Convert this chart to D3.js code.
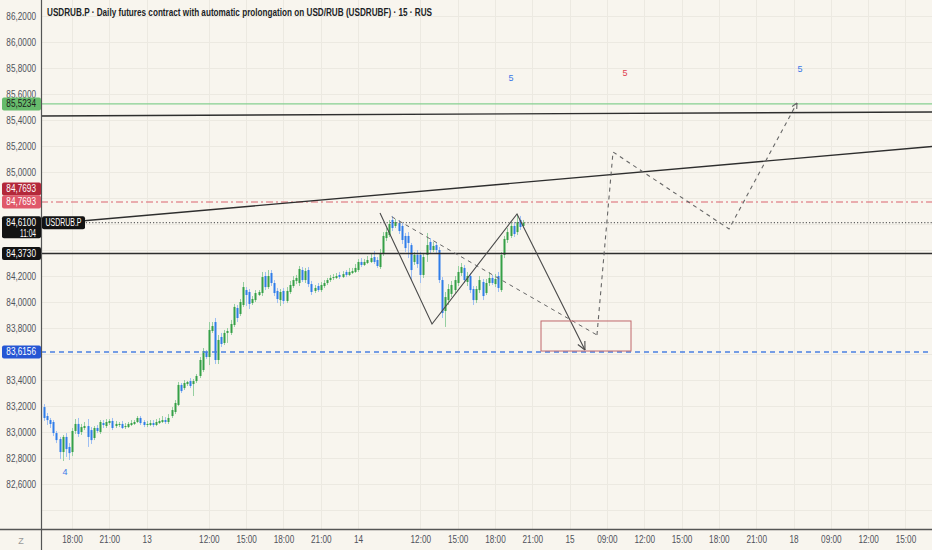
<!DOCTYPE html>
<html><head><meta charset="utf-8">
<script src="https://cdn.jsdelivr.net/npm/d3@7"></script>
<style>
html,body{margin:0;padding:0;background:#f8f5ee;}
svg{display:block;}
text{font-family:"Liberation Sans Narrow","Liberation Sans",Arial,sans-serif;}
</style></head><body>
<svg id="c" width="932" height="550"></svg>
<script>
// ---- candle data (15-min bars, USDRUB futures) ----
const opens=[83.192,83.123,83.092,83.077,82.992,82.946,82.846,82.962,82.885,82.846,83.008,83.062,83.000,83.031,83.046,83.015,82.954,83.031,83.000,83.069,83.046,83.069,83.085,83.046,83.054,83.062,83.038,83.038,83.054,83.062,83.077,83.108,83.077,83.054,83.054,83.069,83.054,83.069,83.077,83.092,83.077,83.123,83.154,83.208,83.362,83.338,83.369,83.392,83.369,83.392,83.431,83.477,83.615,83.577,83.777,83.846,83.554,83.731,83.685,83.762,83.762,83.823,83.954,83.908,83.977,84.092,84.077,83.992,84.015,84.054,84.069,84.200,84.115,84.223,84.146,84.085,84.015,84.085,84.008,84.077,84.123,84.162,84.146,84.246,84.169,84.246,84.138,84.085,84.123,84.092,84.123,84.146,84.169,84.185,84.185,84.208,84.192,84.231,84.208,84.223,84.231,84.246,84.308,84.285,84.300,84.308,84.346,84.323,84.269,84.369,84.492,84.515,84.631,84.585,84.608,84.585,84.508,84.508,84.438,84.308,84.362,84.362,84.208,84.362,84.462,84.400,84.438,84.400,84.169,83.931,84.015,84.062,84.092,84.146,84.223,84.262,84.154,84.200,84.100,84.015,84.092,84.154,84.069,84.146,84.185,84.138,84.200,84.092,84.362,84.477,84.508,84.585,84.538,84.631,84.585];
const highs=[83.215,83.146,83.108,83.092,83.008,82.962,82.977,82.992,82.915,83.031,83.100,83.108,83.062,83.077,83.100,83.038,83.046,83.054,83.092,83.092,83.100,83.100,83.108,83.085,83.077,83.085,83.069,83.077,83.092,83.092,83.123,83.123,83.092,83.085,83.092,83.092,83.100,83.108,83.123,83.115,83.138,83.192,83.246,83.385,83.377,83.400,83.392,83.415,83.408,83.446,83.577,83.646,83.631,83.846,83.846,83.877,83.746,83.762,83.785,83.800,83.862,83.985,83.977,84.023,84.154,84.115,84.100,84.046,84.092,84.092,84.231,84.231,84.246,84.246,84.169,84.108,84.100,84.108,84.115,84.162,84.200,84.208,84.277,84.269,84.262,84.269,84.162,84.131,84.146,84.154,84.169,84.185,84.208,84.215,84.223,84.231,84.238,84.246,84.262,84.262,84.292,84.331,84.338,84.331,84.354,84.369,84.392,84.346,84.408,84.538,84.569,84.631,84.662,84.638,84.631,84.608,84.531,84.538,84.454,84.385,84.400,84.385,84.377,84.531,84.492,84.462,84.462,84.423,84.192,84.077,84.138,84.162,84.200,84.277,84.300,84.285,84.231,84.223,84.123,84.123,84.200,84.177,84.177,84.231,84.208,84.215,84.231,84.385,84.508,84.569,84.615,84.615,84.677,84.662,84.631];
const lows=[83.085,83.054,83.031,82.969,82.915,82.792,82.777,82.808,82.785,82.815,82.985,82.962,82.977,83.015,82.885,82.908,82.938,82.992,82.985,83.031,83.031,83.054,83.015,83.031,83.038,83.023,83.023,83.031,83.046,83.054,83.069,83.054,83.038,83.038,83.046,83.038,83.046,83.062,83.069,83.062,83.062,83.108,83.138,83.200,83.300,83.323,83.354,83.338,83.277,83.377,83.415,83.462,83.562,83.515,83.762,83.523,83.523,83.654,83.669,83.685,83.746,83.808,83.846,83.892,83.962,83.969,83.946,83.977,84.000,84.046,84.046,84.092,84.100,84.123,84.046,83.992,83.969,83.985,83.992,84.062,84.108,84.138,84.123,84.154,84.146,84.115,84.054,84.069,84.077,84.077,84.108,84.131,84.154,84.169,84.177,84.177,84.185,84.192,84.200,84.215,84.223,84.231,84.269,84.277,84.292,84.300,84.292,84.262,84.254,84.354,84.469,84.500,84.546,84.569,84.523,84.446,84.385,84.338,84.169,84.285,84.262,84.146,84.185,84.308,84.369,84.385,84.377,84.146,83.877,83.808,83.977,84.038,84.069,84.123,84.200,84.146,84.123,84.069,83.977,83.992,84.069,84.015,84.054,84.123,84.131,84.115,84.077,84.077,84.338,84.454,84.492,84.500,84.515,84.554,84.569];
const closes=[83.108,83.092,83.062,82.992,82.938,82.846,82.962,82.869,82.838,83.008,83.062,82.985,83.038,83.046,82.962,82.938,83.031,83.008,83.077,83.054,83.077,83.085,83.031,83.062,83.062,83.031,83.046,83.062,83.069,83.077,83.108,83.069,83.054,83.062,83.069,83.054,83.077,83.085,83.092,83.077,83.108,83.169,83.223,83.362,83.315,83.377,83.385,83.354,83.392,83.431,83.554,83.623,83.577,83.785,83.815,83.554,83.708,83.677,83.762,83.777,83.831,83.962,83.877,84.000,84.115,84.054,83.985,84.023,84.069,84.077,84.192,84.115,84.200,84.146,84.069,84.023,84.077,84.008,84.085,84.131,84.169,84.185,84.254,84.169,84.238,84.138,84.077,84.108,84.092,84.131,84.146,84.169,84.185,84.192,84.200,84.192,84.215,84.208,84.231,84.238,84.262,84.308,84.285,84.308,84.323,84.338,84.308,84.277,84.369,84.508,84.538,84.600,84.569,84.615,84.546,84.477,84.415,84.454,84.246,84.362,84.292,84.208,84.346,84.438,84.400,84.431,84.400,84.169,83.915,84.038,84.100,84.131,84.169,84.231,84.269,84.169,84.200,84.092,84.015,84.100,84.169,84.046,84.146,84.185,84.146,84.177,84.108,84.362,84.485,84.538,84.585,84.523,84.615,84.577,84.610];

// ---- axes ----
const yTickValues=[82.4,82.6,82.8,83.0,83.2,83.4,83.6,83.8,84.0,84.2,84.4,84.6,84.8,85.0,85.2,85.4,85.6,85.8,86.0,86.2];
const xTickIndex=[9,21,33,53,65,77,89,101,121,133,145,157,169,181,193,205,217,229,241,253,265,277];
const xTickLabels=["18:00","21:00","13","12:00","15:00","18:00","21:00","14","12:00","15:00","18:00","21:00","15","09:00","12:00","15:00","18:00","21:00","18","09:00","12:00","15:00"];
const titleText="USDRUB.P · Daily futures contract with automatic prolongation on USD/RUB (USDRUBF) · 15 · RUS";

// ---- horizontal levels ----
const greenLevel=85.5234, redLevel=84.7693, lastPrice=84.61, blackLevel=84.373, blueLevel=83.6156;
// ---- drawn trend lines (bar index, price) ----
const trendA=[[-0.965,84.596],[285.53,85.196]];
const trendB=[[-0.965,85.431],[285.53,85.462]];
const zigIdx=[108.04,124.76,152.09,173.95];
const zigPrice=[84.685,83.831,84.677,83.631];
const dashIdx=[111.8,177.8];
const dashPrice=[84.656,83.746];
const projIdx=[177.8,182.96,220.26,242.12];
const projPrice=[83.746,85.154,84.562,85.531];
const boxIdx=[159.81,188.75];
const boxPrice=[83.854,83.623];
const waveText=["5","5","5","4"];
const waveIdx=[150.16,186.8,243.1,6.75];
const wavePrice=[85.723,85.762,85.792,82.692];
const waveColor=["#3a78e8","#e0414f","#3a78e8","#3a78e8"];

const W=932,H=550,L=41,B=529;
const x=d3.scaleLinear().domain([-0.965,285.53]).range([L,W]);
const y=d3.scaleLinear().domain([82.254,86.323]).range([B,0]);
const svg=d3.select('#c');
svg.append('rect').attr('width',W).attr('height',H).attr('fill','#f8f5ee');
svg.append('defs').append('clipPath').attr('id','clip').append('rect').attr('x',L).attr('y',0).attr('width',W-L).attr('height',B);
const plot=svg.append('g').attr('clip-path','url(#clip)');

// narrow-font width estimate (fallback-safe)
function nlen(s,size){
  let w=0;
  for(const ch of s){ w+= /[0-9]/.test(ch)?0.456: /[,.:]/.test(ch)?0.228 : /[A-Z]/.test(ch)?0.56 : 0.45; }
  return w*size;
}

// grid
plot.selectAll('.hg').data(yTickValues).enter().append('line')
 .attr('x1',L).attr('x2',W).attr('y1',d=>Math.round(y(d))+0.5).attr('y2',d=>Math.round(y(d))+0.5)
 .attr('stroke','#ece9e1').attr('stroke-width',1);
plot.selectAll('.vg').data(xTickIndex).enter().append('line')
 .attr('y1',0).attr('y2',B).attr('x1',d=>Math.round(x(d))+0.5).attr('x2',d=>Math.round(x(d))+0.5)
 .attr('stroke','#ece9e1').attr('stroke-width',1);

// candles
const idx=d3.range(closes.length);
const up=i=>closes[i]>=opens[i];
plot.selectAll('.wick').data(idx).enter().append('line')
 .attr('x1',i=>Math.round(x(i))+0.5).attr('x2',i=>Math.round(x(i))+0.5)
 .attr('y1',i=>y(highs[i])).attr('y2',i=>y(lows[i]))
 .attr('stroke',i=>up(i)?'#96cfa0':'#9fbff3').attr('stroke-width',1);
plot.selectAll('.body').data(idx).enter().append('rect')
 .attr('x',i=>Math.round(x(i))-0.5).attr('width',2)
 .attr('y',i=>y(Math.max(opens[i],closes[i])))
 .attr('height',i=>Math.max(1,Math.abs(y(opens[i])-y(closes[i]))))
 .attr('fill',i=>up(i)?'#35a047':'#2f7de9');

// horizontal levels
function hline(p,color,w,dash){
  plot.append('line').attr('x1',L).attr('x2',W).attr('y1',y(p)).attr('y2',y(p))
   .attr('stroke',color).attr('stroke-width',w).attr('stroke-dasharray',dash||null);
}
hline(greenLevel,'#86cf90',1.2);
hline(redLevel,'#d9646f',1.2,'7 3 2 3');
hline(lastPrice,'#666',1.2,'1.2 2');
hline(blackLevel,'#2e2e2e',1.4);
hline(blueLevel,'#4a80e2',1.6,'5 4');

const line=d3.line().x(d=>x(d[0])).y(d=>y(d[1]));
[trendA,trendB].forEach(t=>plot.append('path').attr('d',line(t)).attr('fill','none').attr('stroke','#2e2e2e').attr('stroke-width',1.4));

// zigzag
const zig=zigIdx.map((v,i)=>[v,zigPrice[i]]);
plot.append('path').attr('d',line(zig)).attr('fill','none').attr('stroke','#4a4a4a').attr('stroke-width',1.1);
const dsh=dashIdx.map((v,i)=>[v,dashPrice[i]]);
plot.append('path').attr('d',line(dsh)).attr('fill','none').attr('stroke','#666').attr('stroke-width',1).attr('stroke-dasharray','4 4');
const proj=projIdx.map((v,i)=>[v,projPrice[i]]);
plot.append('path').attr('d',line(proj)).attr('fill','none').attr('stroke','#666').attr('stroke-width',1.1).attr('stroke-dasharray','4 4');

function arrow(a,b,color,len){
  const x1=x(a[0]),y1=y(a[1]),x2=x(b[0]),y2=y(b[1]);
  const ang=Math.atan2(y2-y1,x2-x1);
  [0.45,-0.45].forEach(o=>{
    plot.append('line').attr('x1',x2).attr('y1',y2)
     .attr('x2',x2-len*Math.cos(ang+o)).attr('y2',y2-len*Math.sin(ang+o))
     .attr('stroke',color).attr('stroke-width',1.1);
  });
}
arrow(zig[2],zig[3],'#4a4a4a',9);
arrow(proj[2],proj[3],'#666',6);

// target box
plot.append('rect').attr('x',x(boxIdx[0])).attr('y',y(boxPrice[0]))
 .attr('width',x(boxIdx[1])-x(boxIdx[0])).attr('height',y(boxPrice[1])-y(boxPrice[0]))
 .attr('fill','none').attr('stroke','#c0676b').attr('stroke-width',1);

// wave labels
plot.selectAll('.wv').data(waveText).enter().append('text')
 .attr('x',(d,i)=>x(waveIdx[i])).attr('y',(d,i)=>y(wavePrice[i]))
 .attr('text-anchor','middle').attr('dy','0.35em').attr('font-size',9)
 .attr('fill',(d,i)=>waveColor[i]).text(d=>d);

// title
svg.append('text').attr('x',47).attr('y',16).attr('font-size',10.5).attr('font-weight','bold')
 .attr('fill','#1c1f26').attr('textLength',385).attr('lengthAdjust','spacingAndGlyphs').text(titleText);

// axes panels
svg.append('rect').attr('x',0).attr('y',B).attr('width',W).attr('height',H-B).attr('fill','#f8f5ee');
svg.append('rect').attr('x',0).attr('y',0).attr('width',L).attr('height',H).attr('fill','#f8f5ee');

const fmt=d=>d.toFixed(4).replace('.',',');
const boxLevels=[greenLevel,redLevel,lastPrice,blackLevel,blueLevel];
// axis labels hidden behind price boxes are not drawn
const visibleTicks=yTickValues.filter(v=>v>=82.6 && !boxLevels.some(b=>{const d=y(v)-y(b); return b===lastPrice? (d>-11 && d<19) : b===redLevel ? (d>-23 && d<10) : Math.abs(d)<9;}));
const yAxis=svg.append('g').attr('transform',`translate(${L},0)`)
 .call(d3.axisLeft(y).tickValues(visibleTicks).tickSize(0).tickPadding(5).tickFormat(fmt));
yAxis.select('.domain').remove();
yAxis.selectAll('text').attr('font-size',10).attr('fill','#4f525b')
 .attr('textLength',d=>nlen(fmt(d),10)).attr('lengthAdjust','spacingAndGlyphs');

const xAxis=svg.append('g').attr('transform',`translate(0,${B})`)
 .call(d3.axisBottom(x).tickValues(xTickIndex).tickSize(0).tickPadding(7).tickFormat((d,i)=>xTickLabels[i]));
xAxis.select('.domain').remove();
xAxis.selectAll('text').attr('font-size',10).attr('fill','#4f525b')
 .attr('textLength',(d,i)=>nlen(xTickLabels[i],10)).attr('lengthAdjust','spacingAndGlyphs');

svg.append('text').attr('x',21).attr('y',544).attr('text-anchor','middle').attr('font-size',9).attr('fill','#9a9a9a').text('Z');

// axis lines
svg.append('line').attr('x1',0).attr('x2',W).attr('y1',B+0.5).attr('y2',B+0.5).attr('stroke','#555').attr('stroke-width',1.5);
svg.append('line').attr('x1',L+0.5).attr('x2',L+0.5).attr('y1',0).attr('y2',H).attr('stroke','#555').attr('stroke-width',1.2);

// price label boxes
function pbox(p,offset,fill,txt,tcol,sub){
  const cy=y(p)+offset;
  const h=sub?22:13;
  const g=svg.append('g');
  g.append('rect').attr('x',2).attr('y',cy-6.5).attr('width',L-2).attr('height',h).attr('rx',2).attr('fill',fill);
  g.append('text').attr('x',36).attr('y',cy).attr('dy','0.35em').attr('text-anchor','end').attr('font-size',10).attr('fill',tcol)
   .attr('textLength',nlen(txt,10)).attr('lengthAdjust','spacingAndGlyphs').text(txt);
  if(sub) g.append('text').attr('x',36).attr('y',cy+10.5).attr('dy','0.35em').attr('text-anchor','end').attr('font-size',10).attr('fill',tcol)
   .attr('textLength',16).attr('lengthAdjust','spacingAndGlyphs').text(sub);
}
pbox(greenLevel,0,'#67bb6c',fmt(greenLevel),'#1b1b1b');
pbox(redLevel,-13,'#b3283a',fmt(redLevel),'#ffffff');
pbox(redLevel,0,'#e0586a',fmt(redLevel),'#ffffff');
pbox(lastPrice,0,'#131313',fmt(lastPrice),'#ffffff','11:04');
pbox(blackLevel,0,'#131313',fmt(blackLevel),'#ffffff');
pbox(blueLevel,0,'#2656d4',fmt(blueLevel),'#ffffff');

// symbol tag on the price line
const ty=y(lastPrice);
svg.append('rect').attr('x',L+1).attr('y',ty-6.5).attr('width',43).attr('height',13).attr('rx',2).attr('fill','#131313');
svg.append('text').attr('x',L+22.5).attr('y',ty).attr('dy','0.35em').attr('text-anchor','middle').attr('font-size',10).attr('fill','#fff')
 .attr('textLength',36).attr('lengthAdjust','spacingAndGlyphs').text('USDRUB.P');
</script>
</body></html>
